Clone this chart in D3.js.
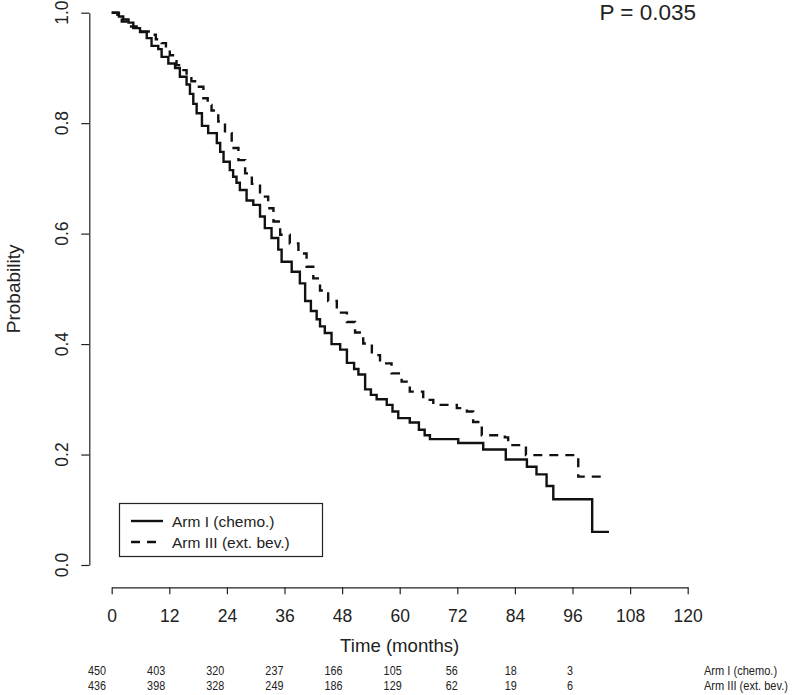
<!DOCTYPE html>
<html>
<head>
<meta charset="utf-8">
<script src="https://cdn.jsdelivr.net/npm/d3@7"></script>
<style>
  html, body { margin: 0; padding: 0; background: #fff; }
  svg { display: block; }
  text { font-family: "Liberation Sans", Arial, sans-serif; fill: #222; }
</style>
</head>
<body>
<svg id="chart" width="800" height="695"></svg>
<script>
// ---- Data ----
const armLabels = ["Arm I (chemo.)", "Arm III (ext. bev.)"];
const pValueLabel = "P = 0.035";
const xTicks = [0, 12, 24, 36, 48, 60, 72, 84, 96, 108, 120];
const yTicks = [0.0, 0.2, 0.4, 0.6, 0.8, 1.0];
const riskTimes = [0, 12, 24, 36, 48, 60, 72, 84, 96];
const riskArmI = [450, 403, 320, 237, 166, 105, 56, 18, 3];
const riskArmIII = [436, 398, 328, 249, 186, 129, 62, 19, 6];

// Kaplan-Meier steps [time (months), survival after step]
const armI = [
  [0,1.0],[1.5,0.993],[2.4,0.988],[3.5,0.982],[4.5,0.972],[5.9,0.965],[7.3,0.954],[8.3,0.940],
  [9.7,0.934],[10.4,0.920],[11.8,0.908],[13.2,0.900],[14.2,0.884],[15.6,0.870],[16.3,0.853],
  [17.0,0.835],[17.7,0.818],[18.8,0.795],[20.1,0.782],[21.9,0.764],[22.6,0.748],[23.3,0.730],
  [24.6,0.715],[25.3,0.703],[26.0,0.692],[26.7,0.679],[28.1,0.660],[29.5,0.652],[30.9,0.631],
  [31.9,0.610],[33.3,0.592],[34.7,0.571],[35.4,0.549],[37.5,0.531],[39.2,0.510],[40.3,0.478],
  [41.5,0.460],[42.7,0.445],[43.4,0.432],[44.4,0.420],[45.8,0.400],[47.6,0.390],[49.0,0.366],
  [50.5,0.355],[51.4,0.345],[52.8,0.318],[54.0,0.308],[55.2,0.300],[57.3,0.290],[58.5,0.278],
  [59.7,0.266],[62.1,0.258],[64.0,0.245],[65.2,0.235],[66.3,0.228],[72.2,0.221],[77.4,0.209],
  [82.1,0.191],[86.5,0.178],[88.5,0.164],[90.6,0.143],[92.0,0.119],[100.1,0.060],[103.6,0.060]
];
const armIII = [
  [0,1.0],[1.2,0.990],[2.1,0.984],[3.1,0.975],[5.2,0.966],[8.0,0.960],[9.2,0.952],[10.4,0.945],
  [11.3,0.934],[12.1,0.923],[13.5,0.905],[14.5,0.896],[15.6,0.887],[16.6,0.876],[17.7,0.866],
  [19.1,0.845],[20.0,0.833],[20.8,0.823],[22.2,0.803],[23.6,0.782],[25.0,0.755],[26.4,0.733],
  [27.8,0.709],[29.2,0.690],[30.9,0.667],[32.6,0.646],[33.7,0.622],[35.1,0.598],[37.1,0.582],
  [38.9,0.564],[40.6,0.540],[42.0,0.519],[43.4,0.497],[45.1,0.478],[46.9,0.457],[49.0,0.440],
  [50.7,0.421],[52.4,0.401],[54.2,0.380],[55.9,0.365],[58.3,0.347],[60.4,0.332],[62.1,0.314],
  [64.9,0.299],[67.0,0.290],[71.9,0.284],[74.0,0.278],[75.3,0.259],[77.1,0.235],[81.9,0.231],
  [82.6,0.217],[86.3,0.199],[97.2,0.160],[102.1,0.160]
];

// ---- Layout ----
const svg = d3.select("#chart");
const x = d3.scaleLinear().domain([0, 120]).range([111.7, 687.7]);
const y = d3.scaleLinear().domain([0, 1]).range([565, 12.7]);
const xAxisY = 587.3, yAxisX = 89.3;
const riskX = d3.scaleLinear().domain([0, 96]).range([97, 570]);

// X axis
const gx = svg.append("g")
  .attr("transform", `translate(0,${xAxisY})`)
  .call(d3.axisBottom(x).tickValues(xTicks).tickSize(7).tickSizeOuter(0).tickPadding(15)
        .tickFormat(d3.format("d")));
gx.selectAll("path.domain").attr("stroke", "#222").attr("stroke-width", 1.2);
gx.selectAll(".tick line").attr("stroke", "#222").attr("stroke-width", 1.2);
gx.selectAll(".tick text").attr("font-size", 17.5).attr("font-family", null).attr("fill", "#222");

// Y axis
const gy = svg.append("g")
  .attr("transform", `translate(${yAxisX},0)`)
  .call(d3.axisLeft(y).tickValues(yTicks).tickSize(8).tickSizeOuter(0).tickFormat(() => ""));
gy.selectAll("path.domain").attr("stroke", "#222").attr("stroke-width", 1.2);
gy.selectAll(".tick line").attr("stroke", "#222").attr("stroke-width", 1.2);
svg.append("g").selectAll("text").data(yTicks).join("text")
  .attr("transform", d => `translate(68,${y(d)}) rotate(-90)`)
  .attr("text-anchor", "middle")
  .attr("font-size", 17.5)
  .text(d => d3.format(".1f")(d));

// Axis titles
svg.append("text")
  .attr("x", (x(0) + x(120)) / 2).attr("y", 652)
  .attr("text-anchor", "middle").attr("font-size", 18.6)
  .text("Time (months)");
svg.append("text")
  .attr("transform", `translate(20,${(y(0) + y(1)) / 2}) rotate(-90)`)
  .attr("text-anchor", "middle").attr("font-size", 19)
  .text("Probability");

// P value
svg.append("text")
  .attr("x", 696).attr("y", 20)
  .attr("text-anchor", "end").attr("font-size", 22.5)
  .text(pValueLabel);

// Curves
const line = d3.line().x(d => x(d[0])).y(d => y(d[1])).curve(d3.curveStepAfter);
svg.append("path").datum(armI)
  .attr("d", line).attr("fill", "none").attr("stroke", "#111")
  .attr("stroke-width", 2.4);
svg.append("path").datum(armIII)
  .attr("d", line).attr("fill", "none").attr("stroke", "#111")
  .attr("stroke-width", 2.4).attr("stroke-dasharray", "9,7");

// Legend
const lg = svg.append("g");
lg.append("rect").attr("x", 119.5).attr("y", 503.5).attr("width", 203).attr("height", 53)
  .attr("fill", "#fff").attr("stroke", "#222").attr("stroke-width", 1.2);
const legendItems = [
  { label: armLabels[0], dash: null, yy: 521 },
  { label: armLabels[1], dash: "9,7", yy: 542 }
];
legendItems.forEach(it => {
  lg.append("line").attr("x1", 131).attr("x2", 163).attr("y1", it.yy).attr("y2", it.yy)
    .attr("stroke", "#111").attr("stroke-width", 2.4)
    .attr("stroke-dasharray", it.dash);
  lg.append("text").attr("x", 172).attr("y", it.yy + 5.5).attr("font-size", 15.5).text(it.label);
});

// Numbers at risk (slightly condensed text, as in the reference)
const riskRows = [
  { vals: riskArmI, label: armLabels[0], yy: 675 },
  { vals: riskArmIII, label: armLabels[1], yy: 690 }
];
riskRows.forEach(r => {
  svg.append("g").selectAll("text").data(r.vals).join("text")
    .attr("transform", (d, i) => `translate(${riskX(riskTimes[i])},${r.yy}) scale(0.8,1)`)
    .attr("text-anchor", "middle").attr("font-size", 13.5)
    .text(d => d);
  svg.append("text")
    .attr("transform", `translate(704,${r.yy}) scale(0.82,1)`)
    .attr("font-size", 13.5)
    .text(r.label);
});
</script>
</body>
</html>
